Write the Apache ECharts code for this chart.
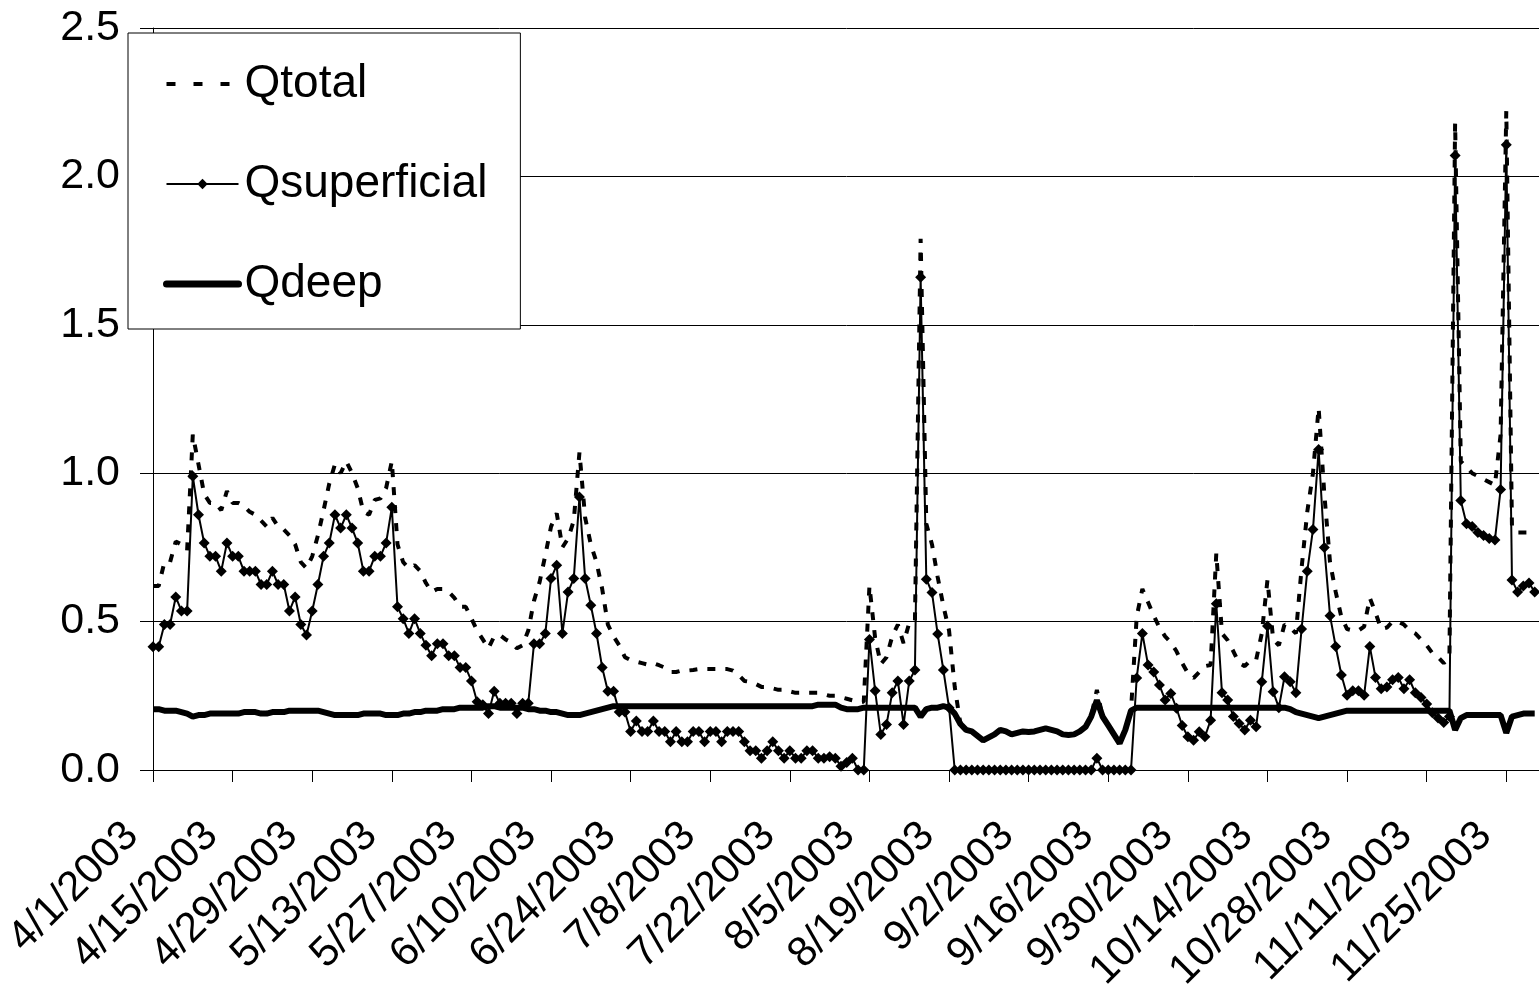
<!DOCTYPE html>
<html><head><meta charset="utf-8">
<script src="https://cdn.jsdelivr.net/npm/echarts@6/dist/echarts.min.js"></script>
<style>html,body{margin:0;padding:0;background:#fff}#c{width:1539px;height:984px}</style>
</head><body><div id="c"></div>
<script>
// Daily series, 4/1/2003 .. 11/30/2003 (244 days); axis runs one extra day to 12/1/2003
const startYear = 2003, startMonth = 4, startDay = 1;
const axisDays = 245;
const yTicks = [0, 0.5, 1.0, 1.5, 2.0, 2.5];
const seriesNames = ['Qtotal', 'Qsuperficial', 'Qdeep'];

const qtotal = [
0.62,0.62,0.70,0.70,0.77,0.76,0.74,1.13,1.03,0.93,
0.90,0.90,0.875,0.94,0.90,0.90,0.89,0.87,0.86,0.84,
0.82,0.85,0.82,0.81,0.79,0.76,0.70,0.68,0.72,0.79,
0.875,0.965,1.03,1.0,1.04,1.0,0.95,0.87,0.86,0.91,
0.915,0.95,1.04,0.76,0.70,0.68,0.69,0.67,0.63,0.60,
0.61,0.61,0.60,0.58,0.55,0.55,0.51,0.47,0.44,0.41,
0.45,0.455,0.44,0.43,0.41,0.42,0.47,0.57,0.634,0.724,
0.82,0.865,0.75,0.78,0.84,1.07,0.85,0.76,0.70,0.61,
0.49,0.45,0.42,0.38,0.37,0.365,0.36,0.355,0.36,0.353,
0.345,0.33,0.33,0.335,0.335,0.337,0.34,0.34,0.34,0.34,
0.34,0.34,0.335,0.32,0.30,0.297,0.29,0.28,0.28,0.275,
0.27,0.27,0.265,0.26,0.26,0.26,0.26,0.26,0.255,0.25,
0.25,0.245,0.24,0.235,0.23,0.23,0.62,0.445,0.357,0.38,
0.45,0.49,0.427,0.496,0.50,1.79,0.83,0.76,0.65,0.553,
0.47,0.28,0.155,0.135,0.13,0.115,0.10,0.11,0.12,0.135,
0.13,0.12,0.125,0.13,0.128,0.13,0.135,0.14,0.135,0.13,
0.12,0.118,0.12,0.13,0.145,0.18,0.27,0.18,0.15,0.12,
0.09,0.135,0.20,0.516,0.61,0.565,0.52,0.48,0.45,0.43,
0.40,0.36,0.326,0.31,0.33,0.35,0.354,0.73,0.46,0.437,
0.40,0.36,0.35,0.37,0.37,0.46,0.64,0.44,0.42,0.49,
0.48,0.46,0.68,0.87,1.0,1.22,0.93,0.70,0.60,0.515,
0.475,0.47,0.47,0.483,0.58,0.53,0.475,0.48,0.50,0.50,
0.49,0.47,0.46,0.44,0.42,0.394,0.38,0.36,0.38,2.18,
1.04,1.02,1.0,0.99,0.98,0.97,0.96,1.13,2.22,0.82,
0.80,0.80,0.80,0.79
];

const qsuperficial = [
0.415,0.415,0.49,0.49,0.583,0.536,0.536,0.99,0.86,0.765,
0.72,0.72,0.67,0.765,0.72,0.72,0.67,0.67,0.67,0.625,
0.625,0.67,0.625,0.625,0.536,0.583,0.49,0.455,0.536,0.625,
0.72,0.765,0.86,0.815,0.86,0.815,0.765,0.67,0.67,0.72,
0.72,0.765,0.885,0.55,0.51,0.46,0.51,0.46,0.42,0.385,
0.425,0.425,0.385,0.385,0.345,0.345,0.30,0.23,0.22,0.19,
0.265,0.225,0.225,0.225,0.19,0.225,0.225,0.425,0.425,0.46,
0.645,0.69,0.46,0.60,0.645,0.92,0.645,0.555,0.46,0.345,
0.265,0.265,0.195,0.195,0.13,0.165,0.13,0.13,0.165,0.13,
0.13,0.095,0.13,0.095,0.095,0.13,0.13,0.095,0.13,0.13,
0.095,0.13,0.13,0.13,0.095,0.065,0.065,0.04,0.065,0.095,
0.065,0.04,0.065,0.04,0.04,0.065,0.065,0.04,0.04,0.045,
0.04,0.013,0.025,0.04,0,0,0.44,0.267,0.12,0.153,
0.26,0.30,0.153,0.30,0.337,1.66,0.643,0.598,0.458,0.337,
0.21,0,0,0,0,0,0,0,0,0,
0,0,0,0,0,0,0,0,0,0,
0,0,0,0,0,0,0.04,0,0,0,
0,0,0,0.31,0.46,0.354,0.33,0.286,0.236,0.258,
0.208,0.15,0.112,0.10,0.129,0.112,0.168,0.56,0.26,0.236,
0.18,0.157,0.135,0.168,0.146,0.297,0.485,0.264,0.21,0.314,
0.297,0.26,0.475,0.67,0.81,1.08,0.75,0.52,0.416,0.32,
0.252,0.267,0.267,0.252,0.416,0.312,0.274,0.28,0.304,0.312,
0.274,0.304,0.26,0.244,0.222,0.193,0.175,0.16,0.18,2.07,
0.908,0.83,0.82,0.80,0.79,0.78,0.775,0.945,2.107,0.64,
0.60,0.62,0.63,0.60
];

const qdeep = [
0.205,0.205,0.20,0.20,0.20,0.195,0.19,0.18,0.185,0.185,
0.19,0.19,0.19,0.19,0.19,0.19,0.195,0.195,0.195,0.19,
0.19,0.195,0.195,0.195,0.20,0.20,0.20,0.20,0.20,0.20,
0.195,0.19,0.185,0.185,0.185,0.185,0.185,0.19,0.19,0.19,
0.19,0.185,0.185,0.185,0.19,0.19,0.195,0.195,0.20,0.20,
0.20,0.205,0.205,0.205,0.21,0.21,0.21,0.21,0.21,0.215,
0.215,0.21,0.21,0.21,0.21,0.21,0.205,0.205,0.20,0.20,
0.195,0.195,0.19,0.185,0.185,0.185,0.19,0.195,0.20,0.205,
0.21,0.215,0.215,0.215,0.215,0.215,0.215,0.215,0.215,0.215,
0.215,0.215,0.215,0.215,0.215,0.215,0.215,0.215,0.215,0.215,
0.215,0.215,0.215,0.215,0.215,0.215,0.215,0.215,0.215,0.215,
0.215,0.215,0.215,0.215,0.215,0.215,0.215,0.22,0.22,0.22,
0.22,0.21,0.205,0.205,0.205,0.21,0.21,0.21,0.21,0.21,
0.21,0.21,0.21,0.21,0.21,0.18,0.205,0.21,0.21,0.215,
0.21,0.19,0.155,0.135,0.13,0.115,0.10,0.11,0.12,0.135,
0.13,0.12,0.125,0.13,0.128,0.13,0.135,0.14,0.135,0.13,
0.12,0.118,0.12,0.13,0.145,0.18,0.235,0.18,0.15,0.12,
0.09,0.135,0.20,0.21,0.21,0.21,0.21,0.21,0.21,0.21,
0.21,0.21,0.21,0.21,0.21,0.21,0.21,0.21,0.21,0.21,
0.21,0.21,0.21,0.21,0.21,0.21,0.21,0.21,0.21,0.21,
0.205,0.195,0.19,0.185,0.18,0.175,0.18,0.185,0.19,0.195,
0.20,0.20,0.20,0.20,0.20,0.20,0.20,0.20,0.20,0.20,
0.20,0.20,0.20,0.20,0.20,0.20,0.20,0.20,0.20,0.135,
0.175,0.185,0.185,0.185,0.185,0.185,0.185,0.185,0.125,0.18,
0.185,0.19,0.19,0.19
];

const categories = [];
for (let i = 0; i < axisDays; i++) {
  const d = new Date(Date.UTC(startYear, startMonth - 1, startDay + i));
  categories.push((d.getUTCMonth() + 1) + '/' + d.getUTCDate() + '/' + d.getUTCFullYear());
}

const font = "'Liberation Sans', Arial, sans-serif";
const chart = echarts.init(document.getElementById('c'), null, {renderer: 'canvas'});
chart.setOption({
  animation: false,
  backgroundColor: '#fff',
  grid: {left: 153, top: 28, width: 1387.4, height: 742, containLabel: false, outerBoundsMode: 'none'},
  xAxis: {
    type: 'category', data: categories, boundaryGap: false,
    axisLine: {lineStyle: {color: '#000', width: 1}},
    axisTick: {show: true, interval: 13, length: 12, lineStyle: {color: '#000', width: 1}},
    axisLabel: {interval: 13, rotate: 45, fontSize: 42, color: '#000', fontFamily: font,
      margin: 38, padding: [0, 30, 0, 0]},
    splitLine: {show: false}
  },
  yAxis: {
    type: 'value', min: yTicks[0], max: yTicks[yTicks.length - 1], interval: 0.5,
    axisLine: {show: true, lineStyle: {color: '#000', width: 1}},
    axisTick: {show: true, length: 13, lineStyle: {color: '#000', width: 1}},
    axisLabel: {formatter: v => v.toFixed(1), fontSize: 43, color: '#000', fontFamily: font, margin: 33},
    splitLine: {show: true, lineStyle: {color: '#000', width: 1}}
  },
  legend: {
    left: 128, top: 33, orient: 'vertical', selectedMode: false,
    backgroundColor: '#fff', borderColor: '#000', borderWidth: 1, borderRadius: 0,
    padding: [23, 33, 17, 35], itemGap: 44, itemWidth: 72, itemHeight: 13,
    textStyle: {fontSize: 46, color: '#000', fontFamily: font, lineHeight: 56, padding: [0, 0, 0, 1]},
    data: [
      {name: seriesNames[0], itemStyle: {opacity: 0}, lineStyle: {width: 4, type: [9, 18], cap: 'butt'}},
      {name: seriesNames[1], lineStyle: {width: 2}},
      {name: seriesNames[2], itemStyle: {opacity: 0}, lineStyle: {width: 7, cap: 'round'}}
    ]
  },
  series: [
    {name: seriesNames[0], type: 'line', data: qtotal, symbol: 'none', silent: true,
      lineStyle: {color: '#000', width: 4, type: [8, 10]}, itemStyle: {color: '#000'}},
    {name: seriesNames[1], type: 'line', data: qsuperficial, symbol: 'diamond', symbolSize: 11,
      showSymbol: true, showAllSymbol: true, silent: true,
      lineStyle: {color: '#000', width: 2}, itemStyle: {color: '#000'}},
    {name: seriesNames[2], type: 'line', data: qdeep, symbol: 'none', silent: true,
      lineStyle: {color: '#000', width: 6}, itemStyle: {color: '#000'}}
  ]
});
</script></body></html>
